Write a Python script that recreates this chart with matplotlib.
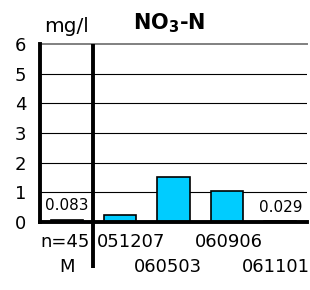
import matplotlib
matplotlib.use("Agg")
import matplotlib.pyplot as plt
import matplotlib.transforms as mtransforms

categories = ["M", "051207", "060503", "060906", "061101"]
row1_labels = ["n=45", "051207", "", "060906", ""]
row2_labels = ["M", "", "060503", "", "061101"]
values = [0.083, 0.25, 1.52, 1.06, 0.029]
value_labels = ["0.083", None, None, None, "0.029"]
yticks = [0, 1, 2, 3, 4, 5, 6]

plt.rcParams['font.family'] = ['DejaVu Sans']

fig = plt.figure(figsize=(3.1, 2.9), dpi=100)
ax = fig.add_axes([40/310, 1-222/290, 267/310, 178/290])

x = list(range(len(categories)))
ax.bar(x, values, width=0.6, color="#00CCFF", edgecolor="black", linewidth=1.2, zorder=3)

ax.set_xlim(-0.5, len(categories) - 0.5)
ax.set_ylim(0, 6)
ax.set_yticks(yticks)
ax.set_yticklabels([str(t) for t in yticks], fontsize=13)
ax.tick_params(axis='y', length=0, pad=10)
ax.set_xticks([])

for t in yticks[1:-1]:
    ax.axhline(t, color="black", linewidth=0.8, zorder=1)

for s in ["left", "bottom"]:
    ax.spines[s].set_linewidth(2.8)
    ax.spines[s].set_color("black")
    ax.spines[s].set_zorder(5)
ax.spines["right"].set_visible(False)
ax.spines["top"].set_color("#808080")
ax.spines["top"].set_linewidth(1.4)

# divider between M and dates
trans = mtransforms.blended_transform_factory(ax.transData, ax.transAxes)
ax.plot([0.5, 0.5], [1, -46/178], transform=trans, color="black",
        linewidth=2.8, clip_on=False, zorder=6, solid_capstyle='butt')

# value labels
for xi, v, lab in zip(x, values, value_labels):
    if lab:
        ax.annotate(lab, xy=(xi, v), xytext=(0, 10), textcoords="offset points",
                    ha="center", va="center", fontsize=11, zorder=4)

# category labels (two rows)
row1_dx = [-1, 8, 0, 1.5, 0]
row2_dx = [0, 0, -4, 0, -3]
for xi, l1, l2, d1, d2 in zip(x, row1_labels, row2_labels, row1_dx, row2_dx):
    if l1:
        ax.annotate(l1, xy=(xi, 0), xycoords=trans, xytext=(d1, -14.5),
                    textcoords="offset points", ha="center", va="center", fontsize=13)
    if l2:
        ax.annotate(l2, xy=(xi, 0), xycoords=trans, xytext=(d2, -32.5),
                    textcoords="offset points", ha="center", va="center", fontsize=13)

fig.text(67/310, 1-26/290, "mg/l", ha="center", va="center", fontsize=14.5)
fig.text(169/310, 1-23/290, r"NO$_\mathbf{3}$-N", ha="center", va="center",
         fontsize=15, fontweight="bold")

fig.savefig("out.png", dpi=100)
